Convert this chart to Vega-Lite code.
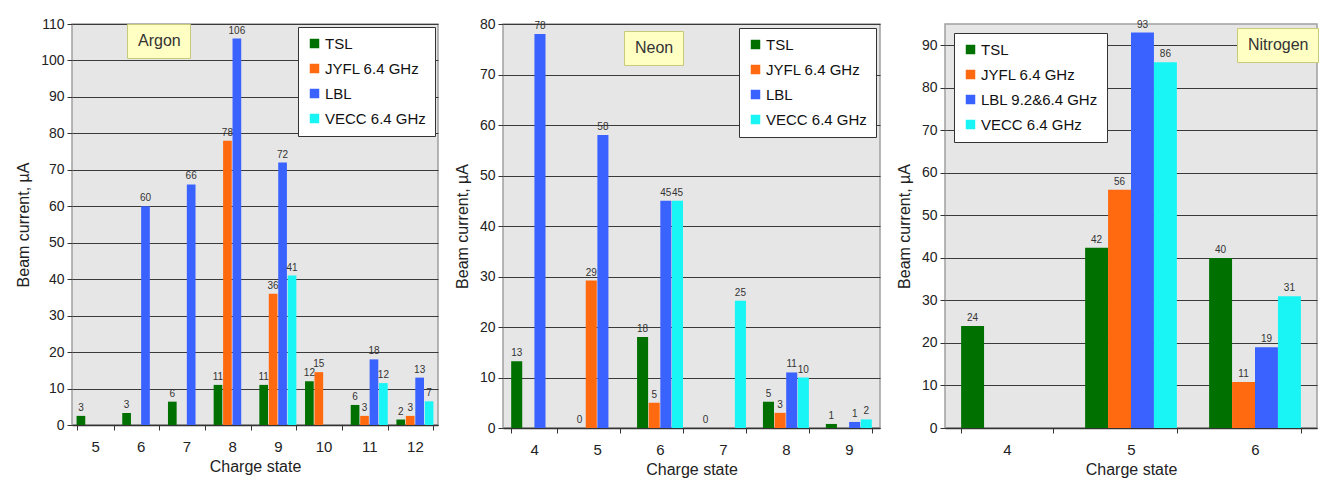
{
  "$schema": "https://vega.github.io/schema/vega-lite/v6.json",
  "padding": {"left": 14, "top": 16, "right": 2, "bottom": 0},
  "background": "white",
  "spacing": 65,
  "bounds": "flush",
  "datasets": {
    "argon": [
      {"charge": 5, "source": "TSL", "current": 2.5},
      {"charge": 6, "source": "TSL", "current": 3.3},
      {"charge": 6, "source": "LBL", "current": 60},
      {"charge": 7, "source": "TSL", "current": 6.4},
      {"charge": 7, "source": "LBL", "current": 66},
      {"charge": 8, "source": "TSL", "current": 11},
      {"charge": 8, "source": "JYFL 6.4 GHz", "current": 78},
      {"charge": 8, "source": "LBL", "current": 106},
      {"charge": 9, "source": "TSL", "current": 11},
      {"charge": 9, "source": "JYFL 6.4 GHz", "current": 36},
      {"charge": 9, "source": "LBL", "current": 72},
      {"charge": 9, "source": "VECC 6.4 GHz", "current": 41},
      {"charge": 10, "source": "TSL", "current": 12},
      {"charge": 10, "source": "JYFL 6.4 GHz", "current": 14.5},
      {"charge": 11, "source": "TSL", "current": 5.5},
      {"charge": 11, "source": "JYFL 6.4 GHz", "current": 2.5},
      {"charge": 11, "source": "LBL", "current": 18},
      {"charge": 11, "source": "VECC 6.4 GHz", "current": 11.5},
      {"charge": 12, "source": "TSL", "current": 1.5},
      {"charge": 12, "source": "JYFL 6.4 GHz", "current": 2.5},
      {"charge": 12, "source": "LBL", "current": 13},
      {"charge": 12, "source": "VECC 6.4 GHz", "current": 6.5}
    ],
    "neon": [
      {"charge": 4, "source": "TSL", "current": 13.2},
      {"charge": 4, "source": "LBL", "current": 78},
      {"charge": 5, "source": "TSL", "current": 0},
      {"charge": 5, "source": "JYFL 6.4 GHz", "current": 29.2},
      {"charge": 5, "source": "LBL", "current": 58},
      {"charge": 6, "source": "TSL", "current": 18},
      {"charge": 6, "source": "JYFL 6.4 GHz", "current": 5},
      {"charge": 6, "source": "LBL", "current": 45},
      {"charge": 6, "source": "VECC 6.4 GHz", "current": 45},
      {"charge": 7, "source": "TSL", "current": 0},
      {"charge": 7, "source": "VECC 6.4 GHz", "current": 25.2},
      {"charge": 8, "source": "TSL", "current": 5.2},
      {"charge": 8, "source": "JYFL 6.4 GHz", "current": 3},
      {"charge": 8, "source": "LBL", "current": 11},
      {"charge": 8, "source": "VECC 6.4 GHz", "current": 10},
      {"charge": 9, "source": "TSL", "current": 0.8},
      {"charge": 9, "source": "LBL", "current": 1.2},
      {"charge": 9, "source": "VECC 6.4 GHz", "current": 1.7}
    ],
    "nitrogen": [
      {"charge": 4, "source": "TSL", "current": 24},
      {"charge": 5, "source": "TSL", "current": 42.4},
      {"charge": 5, "source": "JYFL 6.4 GHz", "current": 56},
      {"charge": 5, "source": "LBL 9.2&6.4 GHz", "current": 93},
      {"charge": 5, "source": "VECC 6.4 GHz", "current": 86},
      {"charge": 6, "source": "TSL", "current": 40},
      {"charge": 6, "source": "JYFL 6.4 GHz", "current": 10.8},
      {"charge": 6, "source": "LBL 9.2&6.4 GHz", "current": 19},
      {"charge": 6, "source": "VECC 6.4 GHz", "current": 31}
    ]
  },
  "resolve": {
    "scale": {"color": "independent", "opacity": "independent", "x": "independent", "y": "independent", "xOffset": "independent"},
    "legend": {"color": "independent", "opacity": "independent"}
  },
  "hconcat": [
    {
      "width": 366, "height": 401,
      "data": {"name": "argon"},
      "encoding": {
        "x": {"field": "charge", "type": "ordinal", "title": "Charge state", "scale": {"paddingInner": 0.19, "paddingOuter": 0.1}},
        "xOffset": {"field": "source", "type": "nominal", "scale": {"domain": ["TSL", "JYFL 6.4 GHz", "LBL", "VECC 6.4 GHz"], "paddingInner": 0.08}},
        "y": {"field": "current", "type": "quantitative", "title": "Beam current, µA", "scale": {"domain": [0, 110], "nice": false}, "axis": {"values": [0, 10, 20, 30, 40, 50, 60, 70, 80, 90, 100, 110]}}
      },
      "layer": [
        {
          "mark": {"type": "bar"},
          "encoding": {
            "color": {"field": "source", "type": "nominal", "scale": {"domain": ["TSL", "JYFL 6.4 GHz", "LBL", "VECC 6.4 GHz"], "range": ["#007000", "#ff6a10", "#3a62ff", "#19f5f5"]}, "legend": {"orient": "top-right", "offset": 3}},
            "opacity": {"datum": "Argon", "type": "nominal", "scale": {"range": [1]}, "legend": {"orient": "none", "legendX": 55, "legendY": 0, "fillColor": "#ffffc4", "strokeColor": "#c9c97a", "padding": 9, "labelFontSize": 16, "labelColor": "#333", "symbolSize": 0, "symbolOpacity": 0, "symbolStrokeWidth": 0, "labelOffset": -14, "title": null}}
          }
        },
        {
          "mark": {"type": "text", "baseline": "bottom", "dy": -3, "fontSize": 10, "color": "#333"},
          "encoding": {
            "text": {"field": "current", "type": "quantitative", "format": ".0f"}
          }
        }
      ]
    },
    {
      "width": 377, "height": 404,
      "data": {"name": "neon"},
      "encoding": {
        "x": {"field": "charge", "type": "ordinal", "title": "Charge state", "scale": {"paddingInner": 0.27, "paddingOuter": 0.13}},
        "xOffset": {"field": "source", "type": "nominal", "scale": {"domain": ["TSL", "JYFL 6.4 GHz", "LBL", "VECC 6.4 GHz"], "paddingInner": 0.05}},
        "y": {"field": "current", "type": "quantitative", "title": "Beam current, µA", "scale": {"domain": [0, 80], "nice": false}, "axis": {"values": [0, 10, 20, 30, 40, 50, 60, 70, 80]}}
      },
      "layer": [
        {
          "mark": {"type": "bar"},
          "encoding": {
            "color": {"field": "source", "type": "nominal", "scale": {"domain": ["TSL", "JYFL 6.4 GHz", "LBL", "VECC 6.4 GHz"], "range": ["#007000", "#ff6a10", "#3a62ff", "#19f5f5"]}, "legend": {"orient": "top-right", "offset": 4}},
            "opacity": {"datum": "Neon", "type": "nominal", "scale": {"range": [1]}, "legend": {"orient": "none", "legendX": 121, "legendY": 7, "fillColor": "#ffffc4", "strokeColor": "#c9c97a", "padding": 9, "labelFontSize": 16, "labelColor": "#333", "symbolSize": 0, "symbolOpacity": 0, "symbolStrokeWidth": 0, "labelOffset": -14, "title": null}}
          }
        },
        {
          "mark": {"type": "text", "baseline": "bottom", "dy": -3, "fontSize": 10, "color": "#333"},
          "encoding": {
            "text": {"field": "current", "type": "quantitative", "format": ".0f"}
          }
        }
      ]
    },
    {
      "width": 372, "height": 404,
      "data": {"name": "nitrogen"},
      "encoding": {
        "x": {"field": "charge", "type": "ordinal", "title": "Charge state", "scale": {"paddingInner": 0.26, "paddingOuter": 0.13}},
        "xOffset": {"field": "source", "type": "nominal", "scale": {"domain": ["TSL", "JYFL 6.4 GHz", "LBL 9.2&6.4 GHz", "VECC 6.4 GHz"], "paddingInner": 0}},
        "y": {"field": "current", "type": "quantitative", "title": "Beam current, µA", "scale": {"domain": [0, 95], "nice": false}, "axis": {"values": [0, 10, 20, 30, 40, 50, 60, 70, 80, 90]}}
      },
      "layer": [
        {
          "mark": {"type": "bar"},
          "encoding": {
            "color": {"field": "source", "type": "nominal", "scale": {"domain": ["TSL", "JYFL 6.4 GHz", "LBL 9.2&6.4 GHz", "VECC 6.4 GHz"], "range": ["#007000", "#ff6a10", "#3a62ff", "#19f5f5"]}, "legend": {"orient": "top-left", "offset": 9}},
            "opacity": {"datum": "Nitrogen", "type": "nominal", "scale": {"range": [1]}, "legend": {"orient": "none", "legendX": 292, "legendY": 4, "fillColor": "#ffffc4", "strokeColor": "#c9c97a", "padding": 9, "labelFontSize": 16, "labelColor": "#333", "symbolSize": 0, "symbolOpacity": 0, "symbolStrokeWidth": 0, "labelOffset": -14, "title": null}}
          }
        },
        {
          "mark": {"type": "text", "baseline": "bottom", "dy": -3, "fontSize": 10, "color": "#333"},
          "encoding": {
            "text": {"field": "current", "type": "quantitative", "format": ".0f"}
          }
        }
      ]
    }
  ],
  "config": {
    "font": "Liberation Sans",
    "view": {"fill": "#e6e6e6", "stroke": "#a0a0a0", "strokeWidth": 1.5},
    "axis": {
      "labelFont": "Liberation Sans", "labelFontSize": 14, "labelColor": "#222",
      "titleFont": "Liberation Sans", "titleFontSize": 16, "titleFontWeight": "normal", "titleColor": "#222",
      "tickColor": "#333", "tickSize": 5, "domainColor": "#333", "gridColor": "#3a3a3a", "gridOpacity": 1, "gridWidth": 1
    },
    "axisX": {"tickBand": "extent", "grid": false, "labelAngle": 0, "labelPadding": 9, "titlePadding": 4, "labelFontSize": 15, "domainWidth": 1.5},
    "axisY": {"grid": true, "domain": false, "labelPadding": 3, "titlePadding": 9, "labelOverlap": false},
    "legend": {
      "fillColor": "white", "strokeColor": "#333", "padding": 9, "rowPadding": 9,
      "symbolType": "square", "symbolSize": 90, "symbolStrokeWidth": 0, "symbolOpacity": 1,
      "labelFont": "Liberation Sans", "labelFontSize": 15, "labelColor": "#111", "labelOffset": 3, "labelLimit": 300, "title": null
    }
  }
}
